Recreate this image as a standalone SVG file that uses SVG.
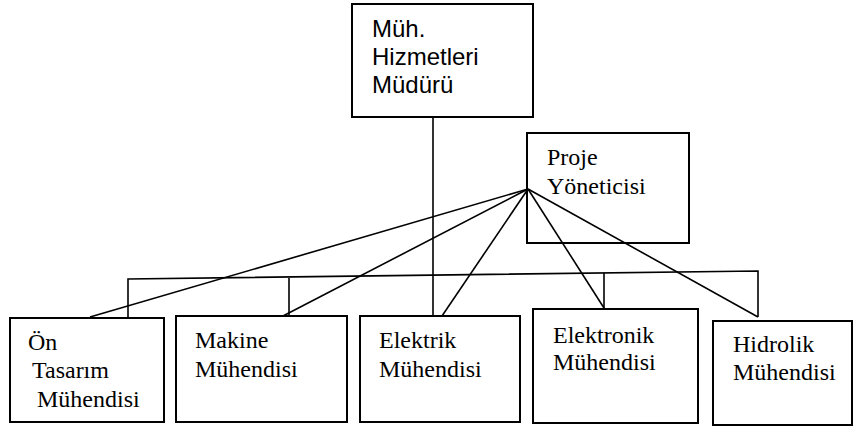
<svg xmlns="http://www.w3.org/2000/svg" width="854" height="428" viewBox="0 0 854 428">
<style>
.box{fill:#fff;stroke:#000;stroke-width:2}
.ln{fill:none;stroke:#000;stroke-width:1.6}
.sans{font-family:"Liberation Sans",Arial,sans-serif;font-size:24px;fill:#000}
.serif{font-family:"Liberation Serif","Times New Roman",serif;font-size:24px;fill:#000}
</style>
<rect width="854" height="428" fill="#fff"/>
<g id="connectors">
<line class="ln" x1="433" y1="118" x2="433" y2="320"/>
<polyline class="ln" points="128,318 128,279 758,271 758,317"/>
<line class="ln" x1="289" y1="278" x2="289" y2="316"/>
<line class="ln" x1="604" y1="273" x2="604" y2="308"/>
<line class="ln" x1="528" y1="189" x2="90" y2="317"/>
<line class="ln" x1="528" y1="189" x2="283" y2="316"/>
<line class="ln" x1="528" y1="189" x2="442" y2="316"/>
<line class="ln" x1="528" y1="189" x2="604" y2="308"/>
<line class="ln" x1="528" y1="189" x2="758" y2="317"/>
</g>
<g id="n-mudur">
<rect class="box" x="352" y="4" width="181" height="113"/>
<text class="sans" x="372" y="37">Müh.</text>
<text class="sans" x="372" y="65">Hizmetleri</text>
<text class="sans" x="372" y="93">Müdürü</text>
</g>
<g id="n-proje">
<rect class="box" x="527" y="133" width="162" height="110" fill="none" style="fill:none"/>
<text class="serif" x="547" y="165">Proje</text>
<text class="serif" x="547" y="194">Yöneticisi</text>
</g>
<g id="n-on">
<rect class="box" x="10" y="318" width="154" height="104"/>
<text class="serif" x="28" y="350">Ön</text>
<text class="serif" x="32" y="378">Tasarım</text>
<text class="serif" x="37" y="407">Mühendisi</text>
</g>
<g id="n-makine">
<rect class="box" x="176" y="316" width="171" height="106"/>
<text class="serif" x="195" y="348">Makine</text>
<text class="serif" x="195" y="377">Mühendisi</text>
</g>
<g id="n-elektrik">
<rect class="box" x="360" y="316" width="160" height="106"/>
<text class="serif" x="379" y="348">Elektrik</text>
<text class="serif" x="379" y="377">Mühendisi</text>
</g>
<g id="n-elektronik">
<rect class="box" x="533" y="309" width="165" height="114"/>
<text class="serif" x="553" y="343">Elektronik</text>
<text class="serif" x="553" y="370">Mühendisi</text>
</g>
<g id="n-hidrolik">
<rect class="box" x="713" y="321" width="139" height="104"/>
<text class="serif" x="733" y="352">Hidrolik</text>
<text class="serif" x="733" y="380">Mühendisi</text>
</g>
</svg>
